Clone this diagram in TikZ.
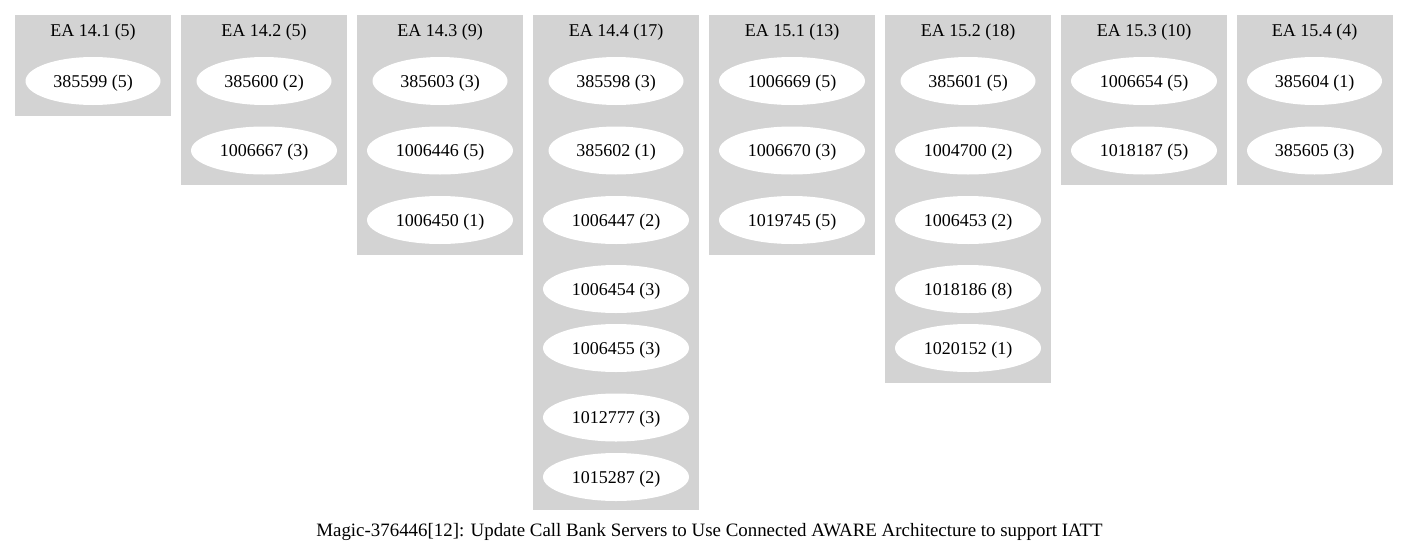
\documentclass[tikz,border=0pt]{standalone}
\usepackage{fontspec}
\setmainfont{Liberation Serif}
\usetikzlibrary{shapes.geometric}
\definecolor{clustergray}{RGB}{211,211,211}
\begin{document}
\begin{tikzpicture}[x=1pt,y=-1pt,
  cluster/.style={fill=clustergray,draw=none,inner sep=0pt,outer sep=0pt},
  ctitle/.style={font=\fontsize{18}{20}\selectfont,inner sep=0pt,
    text height=12.2pt,text depth=0pt},
  item/.style={ellipse,fill=white,draw=none,minimum height=48pt,inner sep=0pt,
    font=\fontsize{18}{20}\selectfont,text height=12.2pt,text depth=0pt},
  short/.style={item,minimum width=135pt},
  long/.style={item,minimum width=146pt}]
\useasboundingbox (0,0) rectangle (1408,557);

% cluster boxes (top edge at 15)
\node[cluster,minimum width=156pt,minimum height=101pt] (c1) at (93,65.5) {};
\node[cluster,minimum width=166pt,minimum height=170pt] (c2) at (264,100) {};
\node[cluster,minimum width=166pt,minimum height=240pt] (c3) at (440,135) {};
\node[cluster,minimum width=166pt,minimum height=495pt] (c4) at (616,262.5) {};
\node[cluster,minimum width=166pt,minimum height=240pt] (c5) at (792,135) {};
\node[cluster,minimum width=166pt,minimum height=368pt] (c6) at (968,199) {};
\node[cluster,minimum width=166pt,minimum height=170pt] (c7) at (1144,100) {};
\node[cluster,minimum width=156pt,minimum height=170pt] (c8) at (1314.5,100) {};

% cluster titles
\node[ctitle] (t1) at (93,30.5) {EA 14.1 (5)};
\node[ctitle] (t2) at (264,30.5) {EA 14.2 (5)};
\node[ctitle] (t3) at (440,30.5) {EA 14.3 (9)};
\node[ctitle] (t4) at (616,30.5) {EA 14.4 (17)};
\node[ctitle] (t5) at (792,30.5) {EA 15.1 (13)};
\node[ctitle] (t6) at (968,30.5) {EA 15.2 (18)};
\node[ctitle] (t7) at (1144,30.5) {EA 15.3 (10)};
\node[ctitle] (t8) at (1314.5,30.5) {EA 15.4 (4)};

% EA 14.1
\node[short] (n385599) at (93,81) {385599 (5)};
% EA 14.2
\node[short] (n385600) at (264,81) {385600 (2)};
\node[long] (n1006667) at (264,150.5) {1006667 (3)};
% EA 14.3
\node[short] (n385603) at (440,81) {385603 (3)};
\node[long] (n1006446) at (440,150.5) {1006446 (5)};
\node[long] (n1006450) at (440,220) {1006450 (1)};
% EA 14.4
\node[short] (n385598) at (616,81) {385598 (3)};
\node[short] (n385602) at (616,150.5) {385602 (1)};
\node[long] (n1006447) at (616,220) {1006447 (2)};
\node[long] (n1006454) at (616,289) {1006454 (3)};
\node[long] (n1006455) at (616,348) {1006455 (3)};
\node[long] (n1012777) at (616,417.5) {1012777 (3)};
\node[long] (n1015287) at (616,477) {1015287 (2)};
% EA 15.1
\node[long] (n1006669) at (792,81) {1006669 (5)};
\node[long] (n1006670) at (792,150.5) {1006670 (3)};
\node[long] (n1019745) at (792,220) {1019745 (5)};
% EA 15.2
\node[short] (n385601) at (968,81) {385601 (5)};
\node[long] (n1004700) at (968,150.5) {1004700 (2)};
\node[long] (n1006453) at (968,220) {1006453 (2)};
\node[long] (n1018186) at (968,289) {1018186 (8)};
\node[long] (n1020152) at (968,348) {1020152 (1)};
% EA 15.3
\node[long] (n1006654) at (1144,81) {1006654 (5)};
\node[long] (n1018187) at (1144,150.5) {1018187 (5)};
% EA 15.4
\node[short] (n385604) at (1314.5,81) {385604 (1)};
\node[short] (n385605) at (1314.5,150.5) {385605 (3)};

% graph caption
\node[inner sep=0pt,font=\fontsize{18.9}{21}\selectfont,text height=12.8pt,text depth=0pt]
  (caption) at (709.5,530) {Magic-376446[12]: Update Call Bank Servers to Use Connected AWARE Architecture to support IATT};
\end{tikzpicture}
\end{document}
